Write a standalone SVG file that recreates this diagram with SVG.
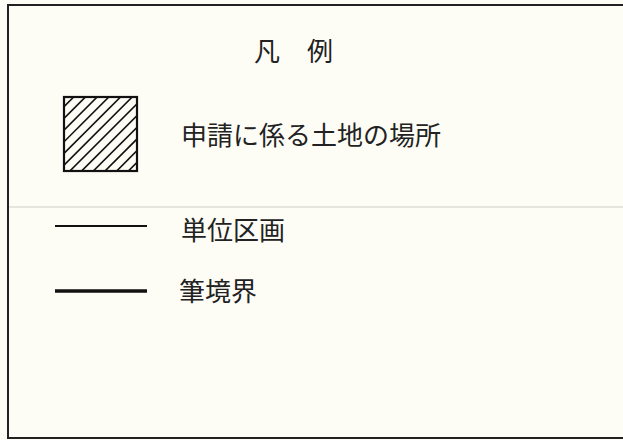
<svg xmlns="http://www.w3.org/2000/svg" width="623" height="440" viewBox="0 0 623 440">
<style>
.t{font-family:"Noto Sans CJK JP","Noto Sans",sans-serif;font-size:26px;fill:#222}
.h{stroke:#111;stroke-width:1.6}
</style>
<defs>
<clipPath id="boxclip"><rect x="64" y="97" width="73" height="74"/></clipPath>
</defs>
<rect width="623" height="440" fill="#fdfdf6"/>
<line x1="8" y1="207" x2="623" y2="207" stroke="#e6e6de" stroke-width="2"/>
<rect id="frame" x="8" y="5" width="630" height="433" fill="none" stroke="#222" stroke-width="2"/>
<g id="title">
<text class="t" x="254" y="61" font-size="24">凡</text>
<text class="t" x="307" y="61" font-size="24">例</text>
</g>
<g id="legend-parcel">
<g clip-path="url(#boxclip)">
<line class="h" x1="64" y1="106.7" x2="160" y2="10.7"/>
<line class="h" x1="64" y1="118.4" x2="180" y2="2.4"/>
<line class="h" x1="64" y1="130.1" x2="190" y2="4.1"/>
<line class="h" x1="64" y1="141.8" x2="200" y2="5.8"/>
<line class="h" x1="64" y1="153.5" x2="210" y2="7.5"/>
<line class="h" x1="64" y1="165.2" x2="220" y2="9.2"/>
<line class="h" x1="60" y1="180.9" x2="230" y2="10.9"/>
<line class="h" x1="60" y1="192.6" x2="240" y2="12.6"/>
<line class="h" x1="60" y1="204.3" x2="250" y2="14.3"/>
<line class="h" x1="60" y1="216" x2="260" y2="16"/>
<line class="h" x1="60" y1="227.7" x2="270" y2="17.7"/>
<line class="h" x1="60" y1="239.4" x2="280" y2="19.4"/>
</g>
<rect x="64" y="97" width="73" height="74" fill="none" stroke="#111" stroke-width="2.2"/>
<text class="t" x="181" y="145">申請に係る土地の場所</text>
</g>
<g id="legend-unit">
<line x1="55" y1="226" x2="147" y2="226" stroke="#111" stroke-width="2"/>
<text class="t" x="181" y="240">単位区画</text>
</g>
<g id="legend-boundary">
<line x1="55" y1="291" x2="147" y2="291" stroke="#111" stroke-width="3.5"/>
<text class="t" x="179" y="301">筆境界</text>
</g>
</svg>
